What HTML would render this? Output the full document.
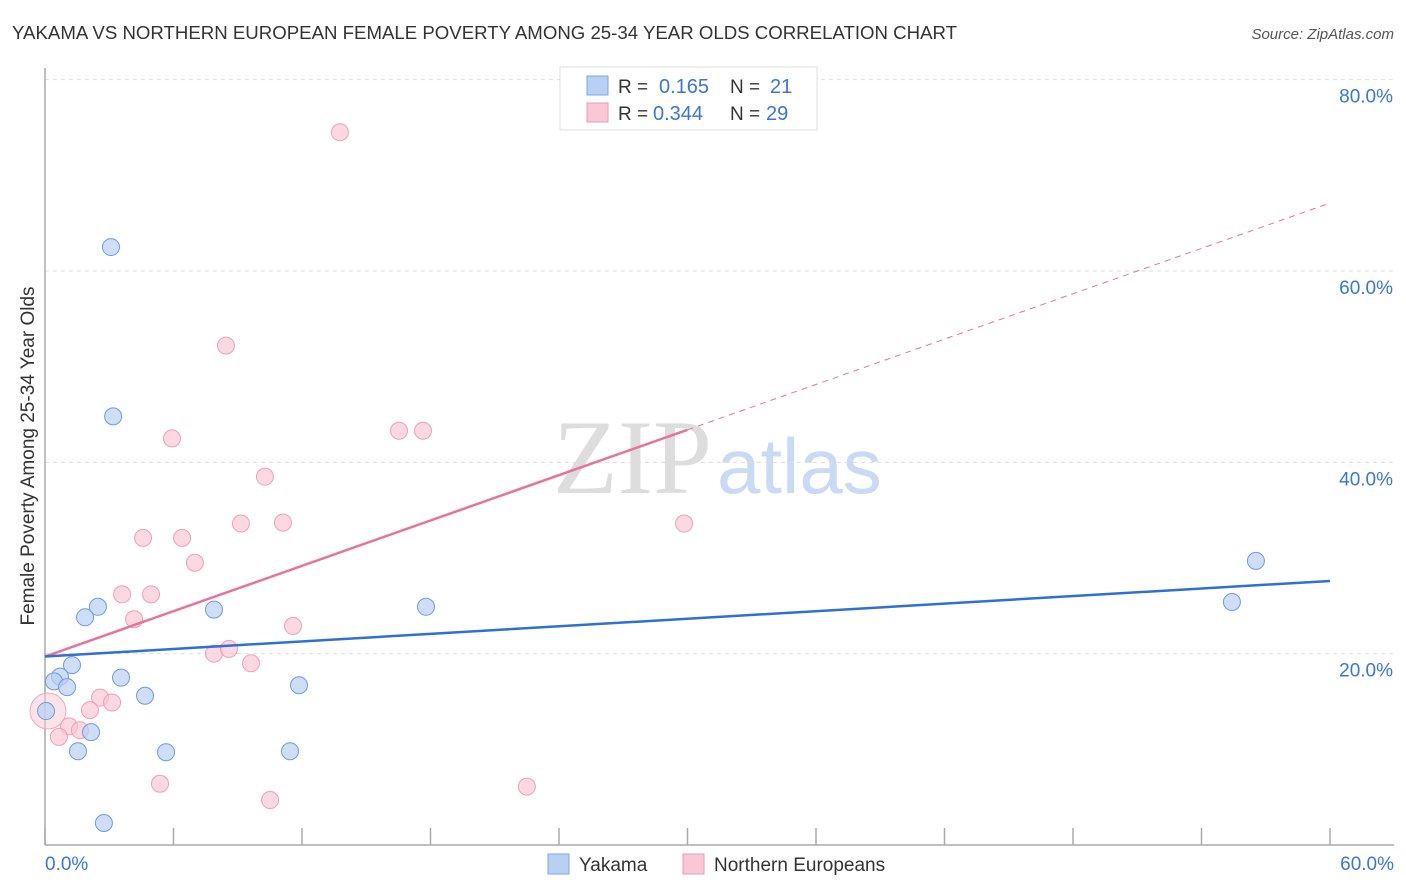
<!DOCTYPE html>
<html><head><meta charset="utf-8"><style>
body{margin:0;background:#fff;font-family:"Liberation Sans",sans-serif;}
svg{display:block}
</style></head><body>
<svg width="1406" height="892" id="chart">
<text x="12" y="39" font-size="18" fill="#333" textLength="945" lengthAdjust="spacingAndGlyphs">YAKAMA VS NORTHERN EUROPEAN FEMALE POVERTY AMONG 25-34 YEAR OLDS CORRELATION CHART</text>
<text x="1394" y="39" font-size="15" fill="#555" font-style="italic" text-anchor="end">Source: ZipAtlas.com</text>
<text x="553" y="493" font-size="106" fill="#ddd" font-family="Liberation Serif,serif">ZIP</text>
<text x="717" y="493" font-size="78" fill="#c9daf2">atlas</text>
<text transform="translate(34,456) rotate(-90)" font-size="19" fill="#333" text-anchor="middle">Female Poverty Among 25-34 Year Olds</text>
<g id="grid"></g><g id="axes"></g><g id="marks"></g>
<g>
<rect x="560" y="67" width="257" height="63" fill="#fff" stroke="#ddd"/>
<rect x="587" y="76" width="21" height="19" fill="#b9d0f4" stroke="#7fa6e6"/>
<rect x="587" y="103" width="21" height="19" fill="#f9c7d6" stroke="#ee9ab4"/>
<text x="618" y="93" font-size="19" fill="#333">R = </text><text x="659" y="93" font-size="20" fill="#3a76d6">0.165</text>
<text x="730" y="93" font-size="19" fill="#333">N = </text><text x="770" y="93" font-size="20" fill="#3a76d6">21</text>
<text x="618" y="120" font-size="19" fill="#333">R = </text><text x="653" y="120" font-size="20" fill="#3a76d6">0.344</text>
<text x="730" y="120" font-size="19" fill="#333">N = </text><text x="766" y="120" font-size="20" fill="#3a76d6">29</text>
</g>
<g>
<rect x="548" y="854" width="21" height="20" fill="#b9d0f4" stroke="#7fa6e6"/>
<text x="579" y="871" font-size="19" fill="#333">Yakama</text>
<rect x="683" y="854" width="21" height="20" fill="#f9c7d6" stroke="#ee9ab4"/>
<text x="714" y="871" font-size="19" fill="#333">Northern Europeans</text>
</g>
</svg>
<script>
const blueX=[3.08,3.18,2.47,1.87,7.89,17.79,56.54,55.42,1.26,0.70,0.42,1.03,3.55,4.67,11.86,0.05,2.15,1.54,5.65,11.44,2.75];
const blueY=[62.5,44.8,24.9,23.8,24.6,24.9,29.7,25.4,18.8,17.6,17.1,16.5,17.5,15.6,16.7,14.0,11.8,9.8,9.7,9.8,2.3];
const pinkX=[13.77,8.45,5.93,16.53,17.65,10.27,9.15,11.11,29.84,4.58,6.40,7.00,3.60,4.95,4.16,11.58,7.89,8.59,9.62,2.57,3.13,2.10,1.12,1.63,0.65,5.37,10.51,22.50,0.14];
const pinkY=[74.5,52.2,42.5,43.3,43.3,38.5,33.6,33.7,33.6,32.1,32.1,29.5,26.2,26.2,23.6,22.9,20.0,20.5,19.0,15.4,14.9,14.1,12.4,12.0,11.3,6.4,4.7,6.1,14.0];
const yTicks=[20,40,60,80];
const yTickLabels=["20.0%","40.0%","60.0%","80.0%"];
const xTicks=[0,6,12,18,24,30,36,42,48,54,60];
const blueTrend=[19.7,27.6];
const pinkTrend=[19.7,67.1];
const pinkSolidEnd=30;
const NS="http://www.w3.org/2000/svg";
const sx=v=>45+v/60*1285, sy=v=>845-v*9.567;
function mk(t,a,p){const e=document.createElementNS(NS,t);for(const k in a)e.setAttribute(k,a[k]);p.appendChild(e);return e;}
const grid=document.getElementById('grid'),axes=document.getElementById('axes'),marks=document.getElementById('marks');
yTicks.forEach((v,i)=>{
 const l=mk('line',{x1:45,x2:1394,y1:sy(v),y2:sy(v),stroke:'#ddd','stroke-dasharray':'4,4'},grid);
 
 
 const t=mk('text',{x:1393,y:sy(v)+23,'font-size':19,fill:'#3a76d6','text-anchor':'end'},axes);
 t.textContent=yTickLabels[i];
 
 
});
const ya=mk('line',{x1:45,x2:45,y1:68,y2:845,stroke:'#aaa','stroke-width':1.5},axes);


const xa=mk('line',{x1:45,x2:1394,y1:845,y2:845,stroke:'#aaa','stroke-width':1.5},axes);


xTicks.forEach(v=>{const t=mk('line',{x1:sx(v),x2:sx(v),y1:828,y2:845,stroke:'#aaa','stroke-width':1.5},axes);
 
 });
const x0=mk('text',{x:45,y:870,'font-size':19,fill:'#3a76d6'},axes);x0.textContent='0.0%';


const x1=mk('text',{x:1394,y:870,'font-size':19,fill:'#3a76d6','text-anchor':'end'},axes);x1.textContent='60.0%';


const big=mk('circle',{cx:sx(pinkX[28]),cy:sy(pinkY[28]),r:18,fill:'#f9c7d6','fill-opacity':0.5,stroke:'#f0a8bf'},marks);


pinkX.forEach((x,i)=>{if(i===28)return;const c=mk('circle',{cx:sx(x),cy:sy(pinkY[i]),r:8.5,fill:'#f9c7d6','fill-opacity':0.7,stroke:'#ef9fb9'},marks);
 
 });
blueX.forEach((x,i)=>{const c=mk('circle',{cx:sx(x),cy:sy(blueY[i]),r:8.5,fill:'#b9d0f4','fill-opacity':0.7,stroke:'#6f9be0'},marks);
 
 });
const pf=v=>pinkTrend[0]+(pinkTrend[1]-pinkTrend[0])*v/60;
const pd=mk('line',{x1:sx(pinkSolidEnd),y1:sy(pf(pinkSolidEnd)),x2:sx(60),y2:sy(pinkTrend[1]),stroke:'#e8739a','stroke-dasharray':'6,5','stroke-width':1},marks);


const ps=mk('line',{x1:sx(0),y1:sy(pinkTrend[0]),x2:sx(pinkSolidEnd),y2:sy(pf(pinkSolidEnd)),stroke:'#e8739a','stroke-width':2.5},marks);


const bl=mk('line',{x1:sx(0),y1:sy(blueTrend[0]),x2:sx(60),y2:sy(blueTrend[1]),stroke:'#2f6fd6','stroke-width':2.5},marks);


</script>
</body></html>
